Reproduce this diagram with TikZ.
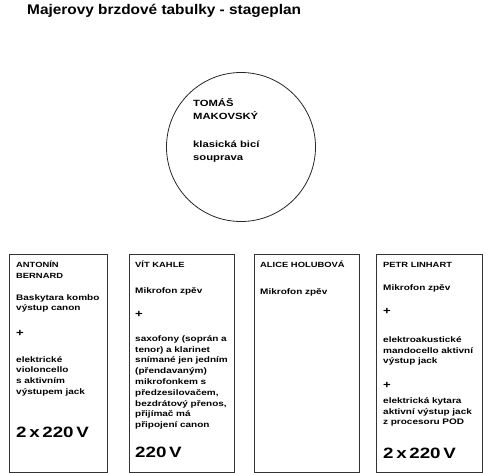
\documentclass[tikz,border=0pt]{standalone}
\usepackage{fontspec}
\newfontfamily\planfont[FakeStretch=1.25]{Liberation Sans}
\newfontfamily\headfont[FakeStretch=1.1]{Liberation Sans}
\usetikzlibrary{positioning}
\setlength{\parindent}{0pt}

\newcommand{\namefont}{\fontsize{7.5}{10.8}\selectfont}
\newcommand{\powerfont}{\fontsize{15}{15}\selectfont}
\newcommand{\plussign}{{\fontsize{10.5}{10.8}\selectfont +}}

\begin{document}
\begin{tikzpicture}[
    x=1pt, y=-1pt,
    stagebox/.style={draw=black!80, line width=1pt, anchor=north west, minimum height=217pt, inner sep=0pt},
    drumkit/.style={draw=black!85, line width=0.8pt, circle, minimum size=149pt, inner sep=0pt},
    boxtext/.style={inner sep=0pt, text width=100pt, align=left, font=\planfont\bfseries\fontsize{8}{10.8}\selectfont},
    kittext/.style={anchor=north west, inner sep=0pt, align=left, font=\planfont\bfseries\fontsize{9}{13}\selectfont}
]
\useasboundingbox (0,0) rectangle (490,473);
\node[anchor=base west, inner sep=0pt, font=\headfont\bfseries\fontsize{14}{17}\selectfont] (title) at (27,15) {Majerovy brzdové tabulky - stageplan};
% drums
\node[drumkit] (tomas) at (241,147) {};
\node[kittext] (tomastext) at (193,97) {\strut TOMÁŠ\\ MAKOVSKÝ\\[15pt] klasická bicí\\ souprava};
% front line
\node[stagebox, minimum width=98pt] (antonin) at (9,254.5) {};
\node[stagebox, minimum width=105pt] (vit) at (129,254.5) {};
\node[stagebox, minimum width=105pt] (alice) at (254,254.5) {};
\node[stagebox, minimum width=106pt] (petr) at (376,254.5) {};
\node[boxtext, below right=5pt and 7pt of antonin.north west] (antonintext) {{\namefont\strut ANTONÍN\\ BERNARD\\[11.2pt]}Baskytara kombo\\ výstup canon\\[14.4pt] \plussign\\[15.2pt] elektrické\\ violoncello\\ s aktivním\\ výstupem jack\par\vspace{27.6pt}{\powerfont 2 x 220 V\par}};
\node[boxtext, below right=5pt and 6pt of vit.north west] (vittext) {{\namefont\strut VÍT KAHLE\\[15.2pt]}Mikrofon zpěv\\[13.2pt] \plussign\\[13.2pt] saxofony (soprán a\\ tenor) a klarinet\\ snímané jen jedním\\ (přendavaným)\\ mikrofonkem s\\ předzesilovačem,\\ bezdrátový přenos,\\ přijímač má\\ připojení canon\par\vspace{14.6pt}{\powerfont 220 V\par}};
\node[boxtext, below right=5pt and 6pt of alice.north west] (alicetext) {{\namefont\strut ALICE HOLUBOVÁ\\[16.2pt]}Mikrofon zpěv\par};
\node[boxtext, below right=5pt and 7pt of petr.north west] (petrtext) {{\namefont\strut PETR LINHART\\[12.2pt]}Mikrofon zpěv\\[13.2pt] \plussign\\[17.2pt] elektroakustické\\ mandocello aktivní\\ výstup jack\\[13.6pt] \plussign\\[4.2pt] elektrická kytara\\ aktivní výstup jack\\ z procesoru POD\par\vspace{18.4pt}{\powerfont 2 x 220 V\par}};
\end{tikzpicture}
\end{document}
